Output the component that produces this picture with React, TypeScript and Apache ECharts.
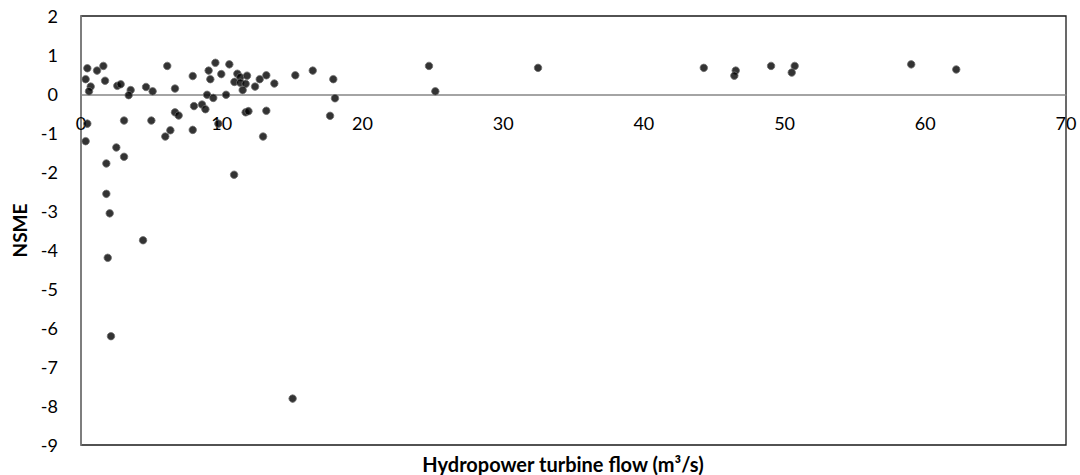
import React, { useEffect, useRef } from "react";
import * as echarts from "echarts";

const flowX: number[] = [
  0.45, 0.33, 0.69, 0.57, 1.14, 1.59, 1.71, 2.58, 2.82, 3.53, 3.39, 4.62, 5.09, 6.13, 6.68, 7.94,
  9.07, 9.19, 9.55, 9.97, 10.54, 11.11, 11.32, 11.8, 10.9, 11.32, 11.7, 11.49, 12.37, 12.7, 13.17,
  13.74, 15.23, 16.47, 17.93, 18.05, 17.7, 8.96, 9.4, 10.31, 8.03, 8.6, 8.84, 6.68, 6.94, 3.06,
  5.0, 0.45, 9.76, 11.7, 11.9, 13.17, 0.33, 2.51, 3.06, 5.99, 6.35, 7.94, 12.94, 10.88, 1.8, 1.8,
  2.04, 4.41, 1.9, 2.13, 15.04, 24.73, 25.18, 32.48, 44.26, 46.53, 46.43, 49.04, 50.72, 50.51,
  59.0, 62.2,
];
const nsmeY: number[] = [
  0.66, 0.38, 0.19, 0.07, 0.6, 0.72, 0.34, 0.21, 0.25, 0.1, -0.03, 0.18, 0.07, 0.72, 0.14, 0.46,
  0.6, 0.38, 0.8, 0.51, 0.76, 0.52, 0.43, 0.47, 0.31, 0.29, 0.26, 0.1, 0.19, 0.38, 0.48,
  0.27, 0.48, 0.6, 0.38, -0.11, -0.56, -0.02, -0.1, -0.02, -0.31, -0.27, -0.39, -0.47, -0.55, -0.68,
  -0.68, -0.76, -0.76, -0.47, -0.44, -0.43, -1.21, -1.37, -1.61, -1.09, -0.93, -0.92, -1.09, -2.07,
  -1.78, -2.56, -3.06, -3.75, -4.2, -6.21, -7.81, 0.72, 0.07, 0.67, 0.67, 0.6, 0.47, 0.72, 0.72,
  0.55, 0.76, 0.63,
];

const xTitle = "Hydropower turbine flow (m³/s)";
const yTitle = "NSME";

export default function App() {
  const ref = useRef<HTMLDivElement>(null);
  useEffect(() => {
    if (!ref.current) return;
    const chart = echarts.init(ref.current, null, { renderer: "svg" });
    const data = flowX.map((x, i) => [x, nsmeY[i]]);
    const font = "Lato, 'Liberation Sans', sans-serif";
    chart.setOption({
      animation: false,
      textStyle: { fontFamily: font },
      grid: {
        left: 81,
        right: 14,
        top: 16,
        bottom: 30,
        show: true,
        borderColor: "#1a1a1a",
        borderWidth: 1.3,
        backgroundColor: "transparent",
      },
      xAxis: {
        type: "value",
        min: 0,
        max: 70,
        interval: 10,
        position: "bottom",
        offset: -350.7,
        axisLine: { show: true, onZero: false, lineStyle: { color: "#868686", width: 1.5 } },
        axisTick: { show: false },
        splitLine: { show: false },
        axisLabel: { color: "#000", fontSize: 18, margin: 20, fontFamily: font },
      },
      yAxis: {
        type: "value",
        min: -9,
        max: 2,
        interval: 1,
        name: yTitle,
        nameLocation: "middle",
        nameGap: 52,
        nameTextStyle: { color: "#000", fontSize: 19, fontWeight: "bold", fontFamily: font },
        axisLine: { show: true, lineStyle: { color: "#868686", width: 1.5 } },
        axisTick: { show: false },
        splitLine: { show: false },
        axisLabel: { color: "#000", fontSize: 18, margin: 23, fontFamily: font },
      },
      graphic: [
        {
          type: "text",
          x: 563,
          y: 464,
          style: {
            text: xTitle,
            fill: "#000",
            font: `bold 20px ${font}`,
            textAlign: "center",
            textVerticalAlign: "middle",
          },
        },
      ],
      series: [
        {
          type: "scatter",
          data,
          symbol: "circle",
          symbolSize: 7.5,
          itemStyle: { color: "#000", borderColor: "#6f6f6f", borderWidth: 1 },
        },
      ],
    });
    return () => chart.dispose();
  }, []);
  return (
    <div
      ref={ref}
      style={{ position: "fixed", left: 0, top: 0, width: 1080, height: 475, background: "#fff" }}
    />
  );
}
